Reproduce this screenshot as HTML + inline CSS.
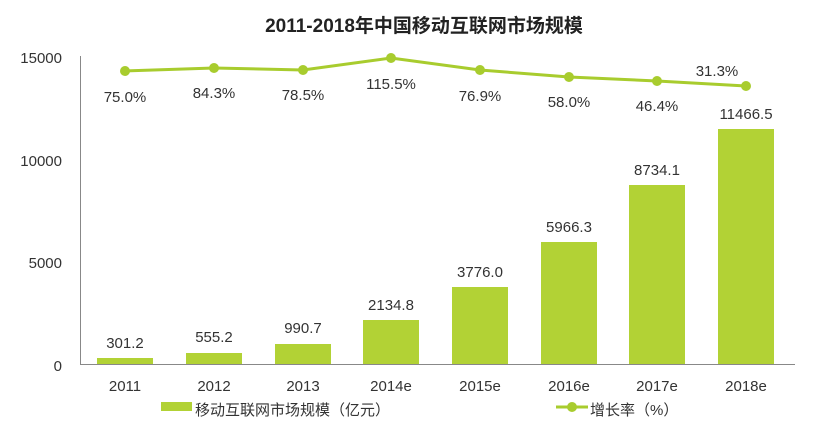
<!DOCTYPE html>
<html><head><meta charset="utf-8"><style>
html,body{margin:0;padding:0;background:#fff;}
svg{display:block;font-family:"Liberation Sans","Noto Sans CJK SC",sans-serif;}
</style></head><body>
<svg width="817" height="422" viewBox="0 0 817 422">
<text x="424" y="32" text-anchor="middle" font-size="19" font-weight="bold" fill="#222">2011-2018年中国移动互联网市场规模</text>
<g font-size="15" fill="#333" text-anchor="end">
<text x="62" y="63">15000</text>
<text x="62" y="166">10000</text>
<text x="62" y="268">5000</text>
<text x="62" y="371">0</text>
</g>
<line x1="80.5" y1="56" x2="80.5" y2="364" stroke="#888" stroke-width="1"/>
<line x1="80" y1="364.5" x2="795" y2="364.5" stroke="#888" stroke-width="1"/>
<g fill="#b2d235">
<rect x="97" y="358" width="56" height="6"/>
<rect x="186" y="353" width="56" height="11"/>
<rect x="275" y="344" width="56" height="20"/>
<rect x="363" y="320" width="56" height="44"/>
<rect x="452" y="287" width="56" height="77"/>
<rect x="541" y="242" width="56" height="122"/>
<rect x="629" y="185" width="56" height="179"/>
<rect x="718" y="129" width="56" height="235"/>
</g>
<g font-size="15" fill="#333" text-anchor="middle">
<text x="125" y="348">301.2</text>
<text x="214" y="342">555.2</text>
<text x="303" y="333">990.7</text>
<text x="391" y="310">2134.8</text>
<text x="480" y="277">3776.0</text>
<text x="569" y="232">5966.3</text>
<text x="657" y="175">8734.1</text>
<text x="746" y="119">11466.5</text>
</g>
<polyline points="125,71 214,68 303,70 391,58 480,70 569,77 657,81 746,86" fill="none" stroke="#a8cc2e" stroke-width="3"/>
<g fill="#a8cc2e">
<circle cx="125" cy="71" r="5"/><circle cx="214" cy="68" r="5"/><circle cx="303" cy="70" r="5"/><circle cx="391" cy="58" r="5"/>
<circle cx="480" cy="70" r="5"/><circle cx="569" cy="77" r="5"/><circle cx="657" cy="81" r="5"/><circle cx="746" cy="86" r="5"/>
</g>
<g font-size="15" fill="#333" text-anchor="middle">
<text x="125" y="102">75.0%</text>
<text x="214" y="98">84.3%</text>
<text x="303" y="100">78.5%</text>
<text x="391" y="89">115.5%</text>
<text x="480" y="101">76.9%</text>
<text x="569" y="107">58.0%</text>
<text x="657" y="111">46.4%</text>
<text x="717" y="76">31.3%</text>
</g>
<g font-size="15" fill="#333" text-anchor="middle">
<text x="125" y="391">2011</text>
<text x="214" y="391">2012</text>
<text x="303" y="391">2013</text>
<text x="391" y="391">2014e</text>
<text x="480" y="391">2015e</text>
<text x="569" y="391">2016e</text>
<text x="657" y="391">2017e</text>
<text x="746" y="391">2018e</text>
</g>
<rect x="161" y="402" width="31" height="9" fill="#b2d235"/>
<text x="195" y="415" font-size="15" fill="#333">移动互联网市场规模（亿元）</text>
<line x1="556" y1="407" x2="588" y2="407" stroke="#a8cc2e" stroke-width="3"/>
<circle cx="572" cy="407" r="5" fill="#a8cc2e"/>
<text x="590" y="415" font-size="15" fill="#333">增长率（%）</text>
</svg>
</body></html>
